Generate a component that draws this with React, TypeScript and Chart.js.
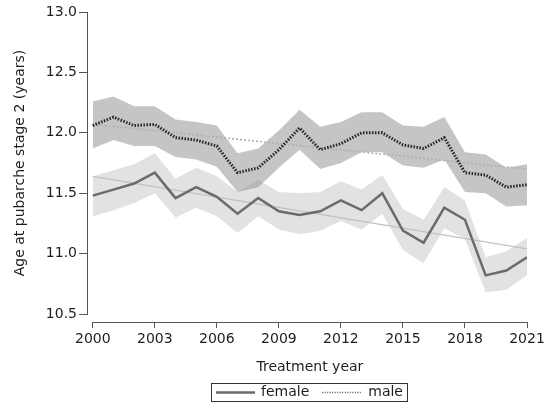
import React, { useEffect, useRef } from "react";
import { Chart, registerables } from "chart.js";

Chart.register(...registerables);

// ---- data ----
const years = [2000, 2001, 2002, 2003, 2004, 2005, 2006, 2007, 2008, 2009, 2010, 2011, 2012, 2013, 2014, 2015, 2016, 2017, 2018, 2019, 2020, 2021];
const femaleMean = [11.48, 11.53, 11.58, 11.67, 11.46, 11.55, 11.47, 11.33, 11.46, 11.35, 11.32, 11.35, 11.44, 11.36, 11.50, 11.19, 11.09, 11.38, 11.28, 10.82, 10.86, 10.97];
const femaleUpper = [11.64, 11.69, 11.74, 11.83, 11.62, 11.71, 11.64, 11.51, 11.61, 11.51, 11.50, 11.51, 11.60, 11.53, 11.65, 11.37, 11.28, 11.55, 11.44, 10.97, 11.02, 11.13];
const femaleLower = [11.31, 11.36, 11.42, 11.50, 11.30, 11.38, 11.31, 11.17, 11.31, 11.20, 11.16, 11.19, 11.27, 11.20, 11.33, 11.03, 10.92, 11.21, 11.12, 10.68, 10.70, 10.82];
const maleMean = [12.06, 12.13, 12.06, 12.07, 11.96, 11.94, 11.89, 11.67, 11.71, 11.86, 12.04, 11.86, 11.91, 12.00, 12.00, 11.90, 11.87, 11.96, 11.67, 11.65, 11.55, 11.57];
const maleUpper = [12.26, 12.30, 12.22, 12.22, 12.11, 12.09, 12.06, 11.83, 11.87, 12.02, 12.19, 12.05, 12.09, 12.17, 12.17, 12.06, 12.05, 12.13, 11.84, 11.82, 11.71, 11.74];
const maleLower = [11.87, 11.94, 11.89, 11.89, 11.80, 11.78, 11.72, 11.51, 11.55, 11.71, 11.86, 11.70, 11.75, 11.84, 11.84, 11.73, 11.71, 11.78, 11.51, 11.50, 11.39, 11.40];
const trendYears = [2000, 2021];
const femaleTrend = [11.64, 11.04];
const maleTrend = [12.07, 11.70];
const xTicks = [2000, 2003, 2006, 2009, 2012, 2015, 2018, 2021];
const yTicks = [10.5, 11.0, 11.5, 12.0, 12.5, 13.0];
const legendLabels = ["female", "male"];
const xTitle = "Treatment year";
const yTitle = "Age at pubarche stage 2 (years)";

const FONT = "'DejaVu Sans', Verdana, sans-serif";
const TEXT = "#1e1e1e";
const AXIS = "#555555";
const FEMALE_LINE = "#6b6b6b";
const MALE_LINE = "#262626";

function alignPx(p: number) {
  return Math.round(p - 0.5) + 0.5;
}

export default function App() {
  const ref = useRef<HTMLCanvasElement>(null);

  useEffect(() => {
    const canvas = ref.current;
    if (!canvas) return;
    const pts = (vals: number[], xs: number[] = years) => vals.map((y, i) => ({ x: xs[i], y }));

    const decor = {
      id: "decor",
      afterDraw(chart: any) {
        const { ctx, chartArea } = chart;
        const xs = chart.scales.x;
        const ys = chart.scales.y;
        const x0 = xs.getPixelForValue(xTicks[0]);
        const x1 = xs.getPixelForValue(xTicks[xTicks.length - 1]);
        const yb = ys.getPixelForValue(yTicks[0]);
        const yt = ys.getPixelForValue(yTicks[yTicks.length - 1]);
        ctx.save();
        ctx.strokeStyle = AXIS;
        ctx.lineWidth = 1;
        ctx.setLineDash([]);
        ctx.beginPath();
        const ax = alignPx(chartArea.left);
        ctx.moveTo(ax, alignPx(yt) - 0.5);
        ctx.lineTo(ax, alignPx(yb) + 0.5);
        const ay = alignPx(chartArea.bottom);
        ctx.moveTo(alignPx(x0) - 0.5, ay);
        ctx.lineTo(alignPx(x1) + 0.5, ay);
        ctx.stroke();

        // axis titles
        ctx.fillStyle = TEXT;
        ctx.font = `14px ${FONT}`;
        ctx.textAlign = "center";
        ctx.textBaseline = "middle";
        const cx = (x0 + x1) / 2;
        ctx.fillText(xTitle, cx, chartArea.bottom + 45);
        ctx.save();
        ctx.translate(20, (yt + yb) / 2);
        ctx.rotate(-Math.PI / 2);
        ctx.fillText(yTitle, 0, 0);
        ctx.restore();

        // legend
        const sampleW = 39;
        const w0 = ctx.measureText(legendLabels[0]).width;
        const w1 = ctx.measureText(legendLabels[1]).width;
        const pad = 5;
        const total = pad + sampleW + 6 + w0 + 13 + sampleW + 7 + w1 + pad;
        const left = Math.round(cx - total / 2);
        const top = 383;
        const h = 19;
        ctx.strokeStyle = "#333";
        ctx.lineWidth = 1;
        ctx.strokeRect(left + 0.5, top + 0.5, total - 1, h - 1);
        const ly = top + h / 2;
        let px = left + pad;
        ctx.beginPath();
        ctx.strokeStyle = FEMALE_LINE;
        ctx.lineWidth = 2.5;
        ctx.moveTo(px, ly);
        ctx.lineTo(px + sampleW, ly);
        ctx.stroke();
        px += sampleW + 6;
        ctx.textAlign = "left";
        ctx.fillStyle = TEXT;
        ctx.fillText(legendLabels[0], px, ly);
        px += w0 + 13;
        ctx.beginPath();
        ctx.strokeStyle = "#555";
        ctx.lineWidth = 1.5;
        ctx.setLineDash([1, 1.5]);
        ctx.moveTo(px, ly);
        ctx.lineTo(px + sampleW, ly);
        ctx.stroke();
        ctx.setLineDash([]);
        px += sampleW + 7;
        ctx.fillText(legendLabels[1], px, ly);
        ctx.restore();
      },
    };

    const base = { pointRadius: 0, pointHoverRadius: 0, tension: 0 };

    const chart = new Chart(canvas, {
      type: "line",
      data: {
        datasets: [
          { ...base, label: "female upper", data: pts(femaleUpper), borderWidth: 0, borderColor: "rgba(0,0,0,0)", backgroundColor: "#e2e2e2", fill: "+1", order: 9 },
          { ...base, label: "female lower", data: pts(femaleLower), borderWidth: 0, borderColor: "rgba(0,0,0,0)", fill: false, order: 9 },
          { ...base, label: "male upper", data: pts(maleUpper), borderWidth: 0, borderColor: "rgba(0,0,0,0)", backgroundColor: "rgba(140,140,140,0.5)", fill: "+1", order: 8 },
          { ...base, label: "male lower", data: pts(maleLower), borderWidth: 0, borderColor: "rgba(0,0,0,0)", fill: false, order: 8 },
          { ...base, label: "female trend", data: pts(femaleTrend, trendYears), borderWidth: 1.2, borderColor: "#c0c0c0", fill: false, order: 5 },
          { ...base, label: "male trend", data: pts(maleTrend, trendYears), borderWidth: 1.6, borderColor: "#b0b0b0", borderDash: [2, 2], fill: false, order: 5 },
          { ...base, label: "female", data: pts(femaleMean), borderWidth: 2.5, borderColor: FEMALE_LINE, fill: false, order: 2 },
          { ...base, label: "male", data: pts(maleMean), borderWidth: 3, borderColor: MALE_LINE, borderDash: [1.5, 1.5], fill: false, order: 1 },
        ],
      },
      options: {
        animation: false,
        responsive: false,
        devicePixelRatio: 1,
        layout: { padding: { left: 0, top: 12, right: 26, bottom: 0 } },
        plugins: { legend: { display: false }, tooltip: { enabled: false } },
        events: [],
        scales: {
          x: {
            type: "linear",
            min: 1999.72,
            max: 2021,
            afterBuildTicks: (s: any) => { s.ticks = xTicks.map((v) => ({ value: v })); },
            afterFit: (s: any) => { s.height = 82; },
            grid: { drawOnChartArea: false, drawTicks: true, tickLength: 6, color: AXIS },
            border: { display: false },
            ticks: { font: { family: FONT, size: 14 }, color: TEXT, padding: 3, autoSkip: false, maxRotation: 0, callback: (v: any) => String(v) },
          },
          y: {
            type: "linear",
            min: 10.434,
            max: 13.0,
            afterBuildTicks: (s: any) => { s.ticks = yTicks.map((v) => ({ value: v })); },
            afterFit: (s: any) => { s.width = 87; },
            grid: { drawOnChartArea: false, drawTicks: true, tickLength: 8, color: AXIS },
            border: { display: false },
            ticks: { font: { family: FONT, size: 14 }, color: TEXT, padding: 2, autoSkip: false, callback: (v: any) => Number(v).toFixed(1) },
          },
        },
      },
      plugins: [decor],
    } as any);

    return () => chart.destroy();
  }, []);

  return (
    <div style={{ position: "absolute", left: 0, top: 0, width: 553, height: 404, background: "#fff" }}>
      <canvas ref={ref} width={553} height={404} style={{ display: "block" }} />
    </div>
  );
}
